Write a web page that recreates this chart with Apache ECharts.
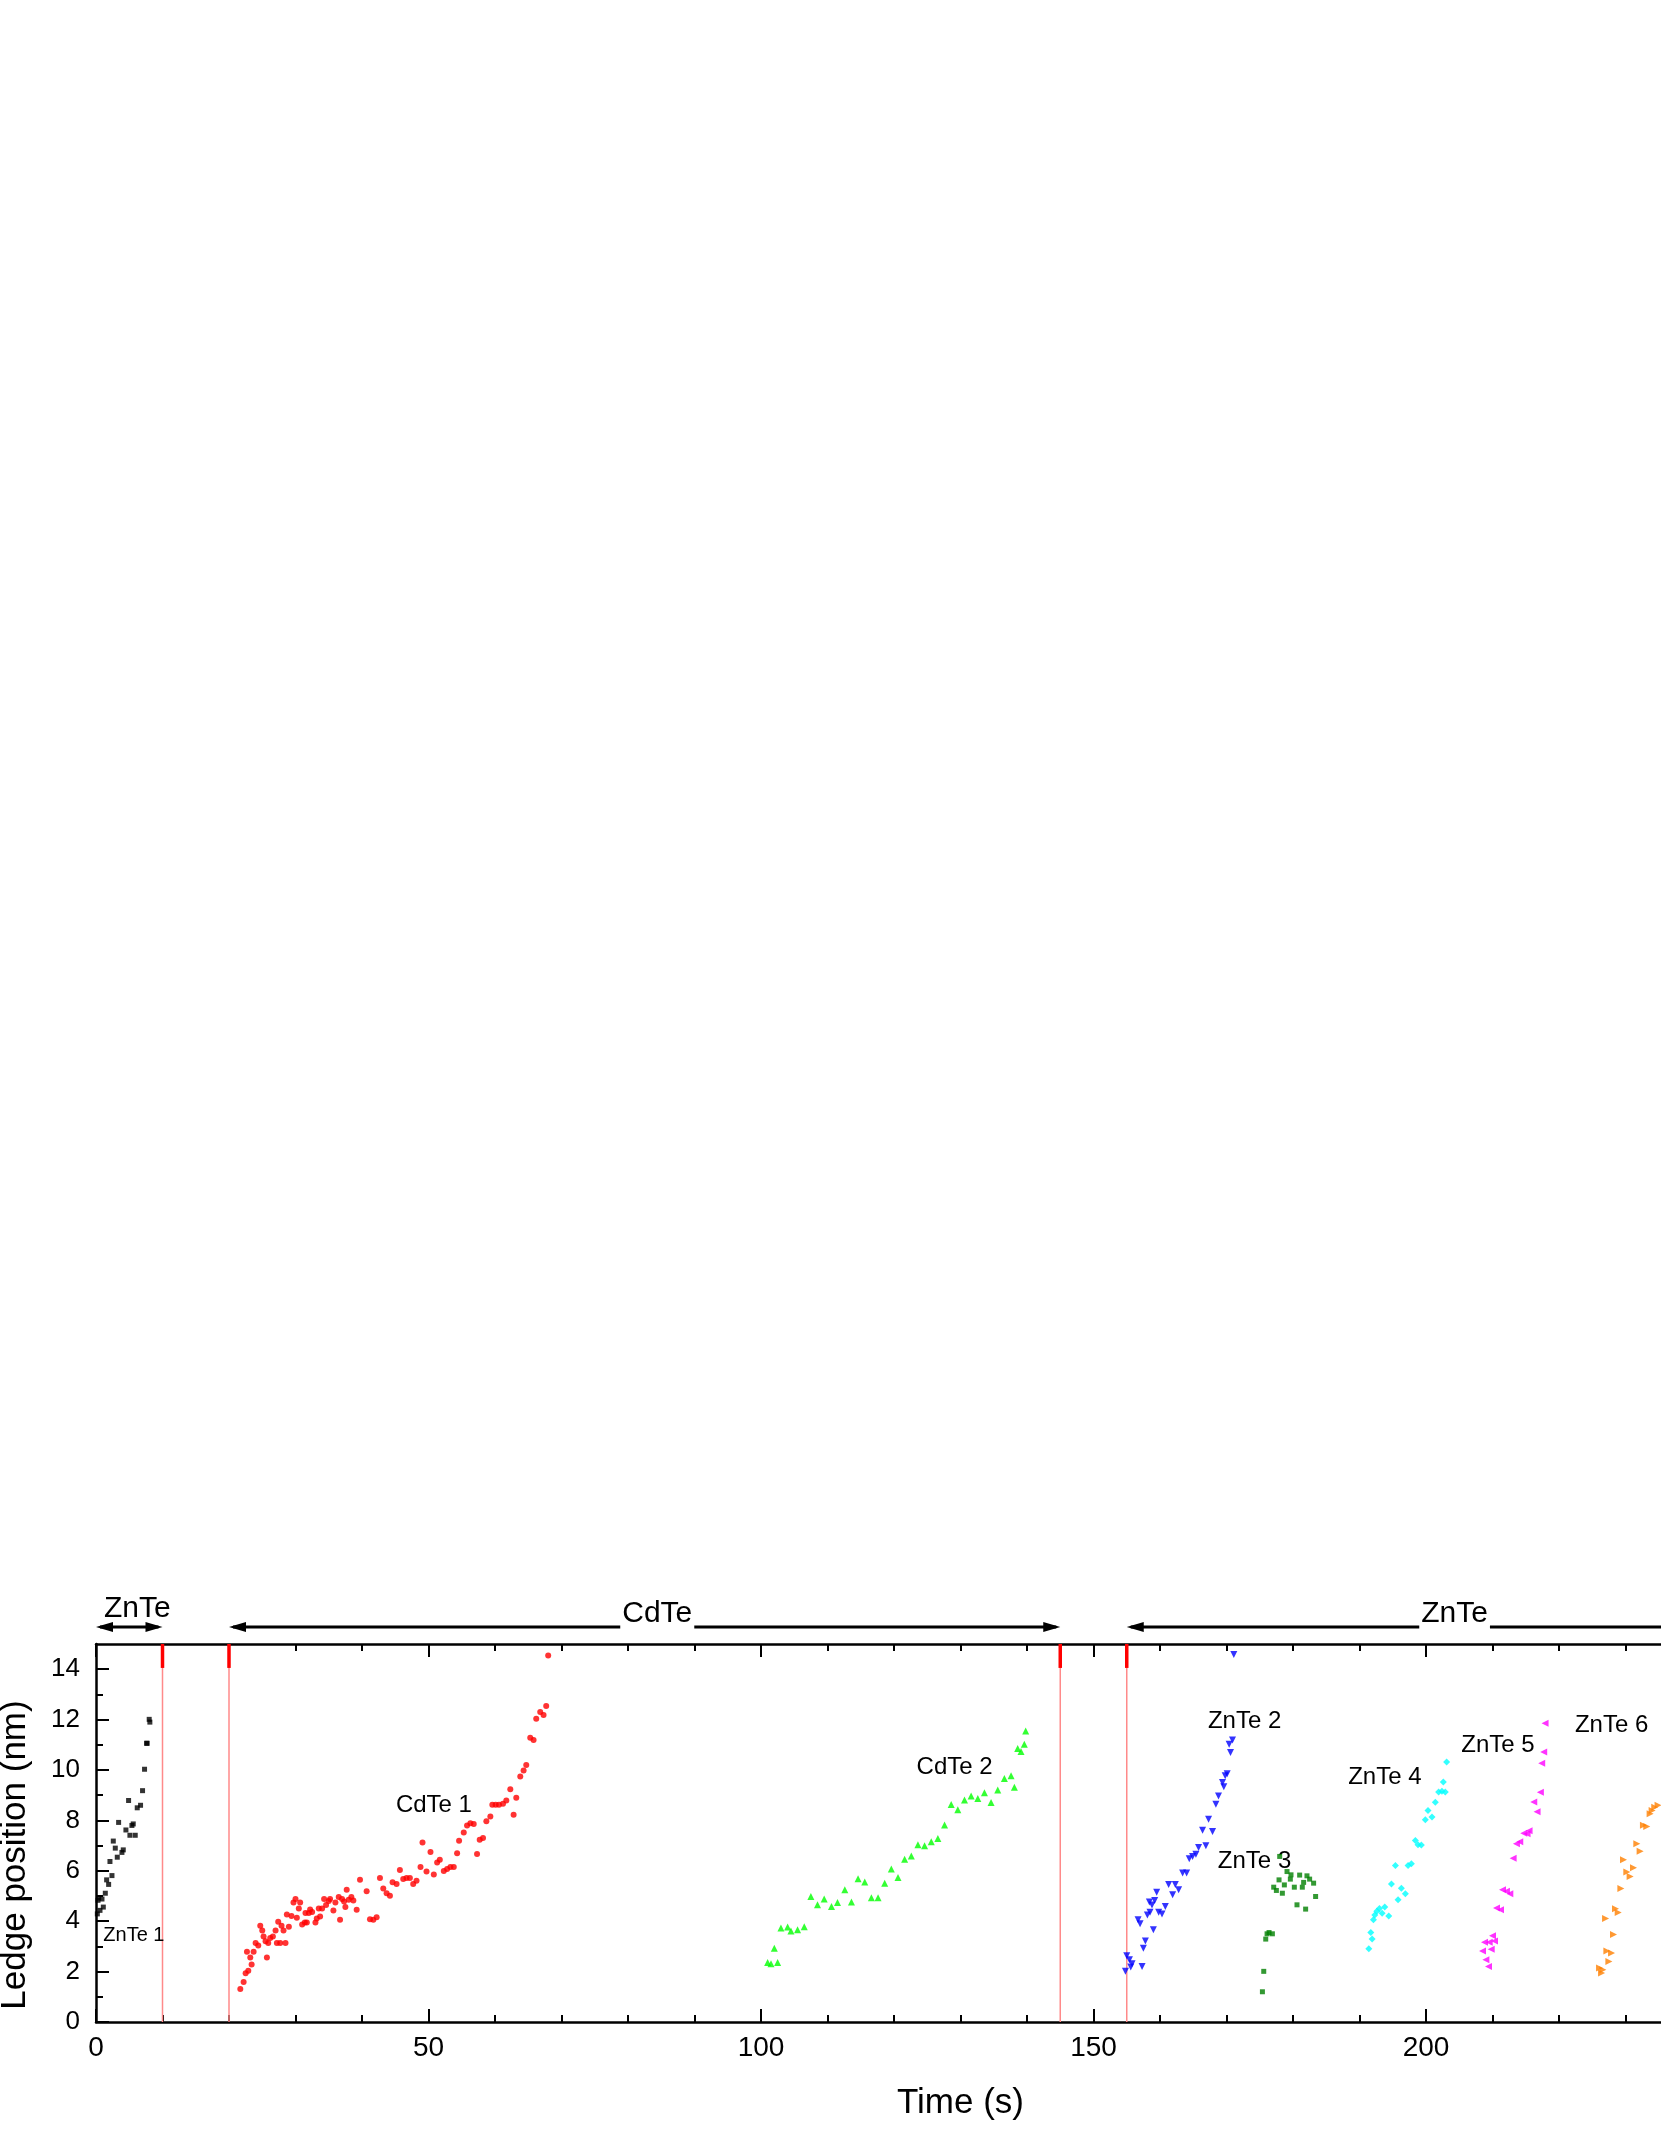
<!DOCTYPE html>
<html>
<head>
<meta charset="utf-8">
<title>Ledge position vs time</title>
<script src="https://cdn.jsdelivr.net/npm/echarts@6/dist/echarts.min.js"></script>
<style>
  html, body { margin: 0; padding: 0; background: #fff; }
  #chart { width: 1661px; height: 2149px; }
</style>
</head>
<body>
<div id="chart"></div>
<script>
// values: time (s) / ledge position (nm)
const znte1Time = [0.2, 0.6, 1.1, 0.3, 0.4, 0.9, 1.4, 1.9, 1.6, 2.4, 2.1, 3.2, 3.9, 4.1, 2.9, 2.6, 5.1, 5.9, 4.5, 5.4, 5.6, 3.4, 6.2, 6.7, 4.9, 7.0, 7.3, 7.6, 7.7, 8.0, 8.1];
const znte1Pos = [4.29, 4.43, 4.56, 4.83, 4.92, 4.88, 5.11, 5.46, 5.64, 5.81, 6.37, 6.54, 6.73, 6.83, 6.9, 7.18, 7.41, 7.41, 7.62, 7.8, 7.86, 7.92, 8.5, 8.6, 8.79, 9.18, 10.03, 11.06, 11.06, 12.01, 11.9];

const cdte1Time = [21.7, 22.2, 22.5, 22.9, 23.4, 23.2, 22.7, 23.7, 24.0, 24.4, 24.7, 25.0, 25.2, 25.5, 25.7, 25.9, 26.2, 26.6, 27.0, 27.2,
  27.4, 27.7, 27.9, 28.2, 28.5, 28.7, 29.0, 29.4, 29.7, 30.0, 30.2, 30.5, 30.7, 31.0, 31.4, 31.7, 31.5, 32.0, 32.2, 32.5,
  33.0, 33.2, 33.5, 33.7, 34.0, 34.3, 34.6, 35.0, 35.2, 35.7, 36.0, 36.5, 36.7, 37.0, 37.3, 37.5, 37.7, 38.0, 38.4, 38.7,
  39.2, 39.7, 40.7, 41.2, 41.7, 42.2, 42.7, 43.2, 43.7, 44.2, 44.6, 45.2, 45.7, 46.2, 46.7, 47.2, 47.7, 48.2, 48.8, 49.1,
  49.7, 50.3, 50.8, 51.3, 51.7, 52.3, 52.8, 53.3, 53.8, 54.3, 54.6, 55.3, 55.8, 56.3, 56.8, 57.3, 57.7, 58.2, 58.7, 59.3,
  59.6, 60.1, 60.6, 61.2, 61.7, 62.3, 62.8, 63.2, 63.8, 64.3, 64.7, 65.3, 65.8, 66.2, 66.8, 67.3, 67.7, 68.0];
const cdte1Pos = [1.31, 1.59, 1.93, 2.03, 2.28, 2.56, 2.79, 2.79, 3.13, 3.04, 3.82, 3.63, 3.39, 3.2, 2.56, 3.13, 3.33, 3.39, 3.63, 3.13,
  3.98, 3.13, 3.82, 3.63, 3.13, 4.27, 3.78, 4.21, 4.74, 4.88, 4.14, 4.5, 4.74, 3.87, 3.95, 3.95, 4.33, 4.33, 4.46, 4.37,
  3.95, 4.11, 4.5, 4.19, 4.5, 4.88, 4.64, 4.8, 4.88, 4.42, 4.74, 4.96, 4.06, 4.88, 4.78, 4.56, 5.25, 4.85, 4.96, 4.82,
  4.45, 5.64, 5.19, 4.08, 4.06, 4.16, 5.71, 5.3, 5.11, 5.01, 5.55, 5.48, 6.03, 5.67, 5.71, 5.71, 5.48, 5.61, 6.15, 7.12,
  5.97, 6.75, 5.85, 6.33, 6.44, 5.99, 6.07, 6.15, 6.15, 6.7, 7.19, 7.52, 7.8, 7.89, 7.86, 6.67, 7.23, 7.3, 7.97, 8.15,
  8.62, 8.62, 8.62, 8.66, 8.79, 9.24, 8.22, 8.9, 9.74, 9.98, 10.2, 11.28, 11.19, 12.03, 12.3, 12.18, 12.54, 14.54];

const cdte2Time = [101.0, 101.5, 102.5, 102.0, 103.0, 104.0, 104.5, 105.5, 106.5, 107.5, 108.5, 109.5, 110.6, 111.5, 112.6,
  113.6, 114.6, 115.6, 116.6, 117.6, 118.6, 119.6, 120.6, 121.6, 122.6, 123.6, 124.6, 125.6, 126.6, 127.6,
  128.6, 129.6, 130.6, 131.6, 132.6, 133.6, 134.6, 135.6, 136.6, 137.6, 138.1, 138.6, 139.1, 139.6, 139.8];
const cdte2Pos = [2.36, 2.31, 2.36, 2.93, 3.73, 3.77, 3.61, 3.66, 3.78, 4.98, 4.65, 4.88, 4.58, 4.74, 5.25,
  4.76, 5.68, 5.56, 4.93, 4.93, 5.51, 6.07, 5.73, 6.46, 6.59, 7.03, 6.99, 7.15, 7.28, 7.82,
  8.63, 8.42, 8.81, 8.97, 8.87, 9.1, 8.71, 9.21, 9.66, 9.77, 9.32, 10.85, 10.73, 11.02, 11.55];

const znte2Time = [171.1, 170.9, 170.4, 170.6, 170.1, 169.8, 169.4, 169.6, 168.8, 168.4, 167.3, 166.4, 167.9, 166.9, 165.8,
  165.4, 164.9, 164.4, 164.0, 163.4, 162.3, 161.3, 162.8, 161.9, 159.5, 159.2, 158.4, 158.8, 160.8, 158.5,
  158.1, 159.8, 160.3, 156.7, 157.0, 159.0, 157.8, 157.5, 155.0, 155.4, 155.8, 155.6, 154.8, 157.3];
const znte2Pos = [14.58, 11.19, 11.02, 10.69, 9.85, 9.77, 9.5, 9.34, 8.97, 8.64, 8.05, 7.61, 7.56, 6.99, 6.92,
  6.66, 6.57, 6.48, 5.91, 5.91, 5.46, 5.46, 5.25, 5.05, 5.15, 4.82, 4.76, 4.64, 4.58, 4.36,
  4.25, 4.36, 4.29, 4.06, 3.9, 3.66, 3.21, 2.93, 2.63, 2.47, 2.31, 2.18, 2.01, 2.2];

const znte3Time = [178.0, 179.1, 179.7, 181.0, 182.1, 182.5, 183.1, 177.9, 179.6, 178.7, 180.2, 181.4, 181.6, 177.1, 177.5,
  178.4, 183.4, 180.6, 181.9, 176.4, 176.9, 176.1, 175.9, 175.6, 175.4];
const znte3Pos = [6.57, 5.97, 5.84, 5.83, 5.8, 5.67, 5.51, 5.64, 5.67, 5.44, 5.35, 5.35, 5.54, 5.35, 5.22,
  5.11, 4.98, 4.65, 4.48, 3.55, 3.5, 3.5, 3.29, 2.01, 1.2];

const znte4Time = [203.1, 202.6, 201.9, 202.4, 202.9, 201.4, 200.3, 200.9, 199.9, 198.4, 198.8, 199.3, 195.4, 197.3, 197.8,
  194.8, 196.3, 196.9, 195.8, 193.8, 193.0, 192.6, 193.4, 192.3, 194.4, 192.1, 191.7, 191.9, 191.4];
const znte4Pos = [10.32, 9.52, 9.13, 9.16, 9.13, 8.72, 8.39, 8.13, 8.03, 7.2, 7.03, 7.02, 6.21, 6.21, 6.28,
  5.48, 5.31, 5.09, 4.85, 4.56, 4.5, 4.39, 4.32, 4.25, 4.21, 4.06, 3.55, 3.29, 2.91];

const znte5Time = [217.9, 217.7, 217.4, 217.2, 216.2, 216.7, 215.5, 214.7, 215.2, 214.1, 213.6, 213.1, 211.5, 212.1, 212.6,
  210.6, 211.2, 210.0, 210.3, 208.8, 209.5, 209.8, 208.5, 209.0, 209.4];
const znte5Pos = [11.86, 10.71, 10.27, 9.12, 8.73, 8.34, 7.59, 7.49, 7.47, 7.15, 7.07, 6.5, 5.25, 5.19, 5.09,
  4.52, 4.45, 3.42, 3.21, 3.16, 3.16, 2.89, 2.82, 2.47, 2.2];

const znte6Time = [234.9, 234.4, 234.0, 233.7, 232.7, 233.2, 231.7, 232.2, 229.7, 231.2, 230.2, 230.7, 229.3, 228.5, 228.9,
  227.0, 228.2, 227.2, 227.9, 227.5, 226.1, 226.6, 226.4];
const znte6Pos = [8.6, 8.52, 8.39, 8.26, 7.81, 7.76, 7.07, 6.78, 6.44, 6.12, 5.95, 5.77, 5.3, 4.49, 4.35,
  4.11, 3.47, 2.82, 2.74, 2.4, 2.14, 2.07, 1.94];

// run labels inside the plot (left end of text, middle height)
const runNames = ['ZnTe 1', 'CdTe 1', 'CdTe 2', 'ZnTe 2', 'ZnTe 3', 'ZnTe 4', 'ZnTe 5', 'ZnTe 6'];
const runLabelTime = [1.1, 45.1, 123.4, 167.2, 168.7, 188.3, 205.3, 222.4];
const runLabelPos = [3.42, 8.58, 10.11, 11.92, 6.37, 9.71, 10.96, 11.79];

// growth switches and the phase arrows above the frame
const switchTimes = [10, 20, 145, 155];
const phaseNames = ['ZnTe', 'CdTe', 'ZnTe'];
const phaseFrom = [0, 20, 155];
const phaseTo = [10, 145, 254];
const phaseTextAt = [6.2, 84.4, 204.3];

const xTicks = [0, 50, 100, 150, 200, 250];
const yTicks = [0, 2, 4, 6, 8, 10, 12, 14];
const yMinorTicks = [1, 3, 5, 7, 9, 11, 13];

const FONT = 'Arial, "Liberation Sans", sans-serif';
const X_MAX = 260;
const Y_MAX = 15;
const ARROW_LEVEL = 15.67;

function pairs(xs, ys) {
  return xs.map(function (x, i) { return [x, ys[i]]; });
}

const runs = [
  { name: 'ZnTe 1', data: pairs(znte1Time, znte1Pos), color: '#000000', symbol: 'rect', size: 5, rotate: 0 },
  { name: 'CdTe 1', data: pairs(cdte1Time, cdte1Pos), color: '#ff0000', symbol: 'circle', size: 6, rotate: 0 },
  { name: 'CdTe 2', data: pairs(cdte2Time, cdte2Pos), color: '#00ff00', symbol: 'triangle', size: 7, rotate: 0 },
  { name: 'ZnTe 2', data: pairs(znte2Time, znte2Pos), color: '#0000ff', symbol: 'triangle', size: 7, rotate: 180 },
  { name: 'ZnTe 3', data: pairs(znte3Time, znte3Pos), color: '#008000', symbol: 'rect', size: 5, rotate: 0 },
  { name: 'ZnTe 4', data: pairs(znte4Time, znte4Pos), color: '#00ffff', symbol: 'diamond', size: 7, rotate: 0 },
  { name: 'ZnTe 5', data: pairs(znte5Time, znte5Pos), color: '#ff00ff', symbol: 'triangle', size: 7, rotate: 90 },
  { name: 'ZnTe 6', data: pairs(znte6Time, znte6Pos), color: '#ff8000', symbol: 'triangle', size: 7, rotate: -90 }
];

const measureCtx = document.createElement('canvas').getContext('2d');
measureCtx.font = '30px ' + FONT;

let chart = echarts.init(document.getElementById('chart'));

let series = runs.map(function (r) {
  return {
    name: r.name,
    type: 'scatter',
    xAxisIndex: 0,
    yAxisIndex: 0,
    data: r.data,
    symbol: r.symbol,
    symbolSize: r.size,
    symbolRotate: r.rotate,
    itemStyle: { color: r.color },
    z: 5,
    silent: true
  };
});

// red switch lines
series.push({
  type: 'custom',
  xAxisIndex: 0,
  yAxisIndex: 0,
  silent: true,
  z: 2,
  data: switchTimes.map(function (t) { return [t, 0]; }),
  encode: { x: 0, y: 1 },
  renderItem: function (params, api) {
    const t = api.value(0);
    const bottom = api.coord([t, 0]);
    const top = api.coord([t, Y_MAX]);
    const mark = api.coord([t, 14.05]);
    return {
      type: 'group',
      children: [
        { type: 'line', shape: { x1: bottom[0], y1: bottom[1], x2: top[0], y2: top[1] },
          style: { stroke: '#ff8a8a', lineWidth: 1.5 } },
        { type: 'line', shape: { x1: top[0], y1: top[1], x2: mark[0], y2: mark[1] },
          style: { stroke: '#ff0000', lineWidth: 3.5 } }
      ]
    };
  }
});

// phase arrows above the frame
series.push({
  type: 'custom',
  xAxisIndex: 0,
  yAxisIndex: 0,
  silent: true,
  clip: false,
  z: 6,
  data: phaseFrom.map(function (f, i) { return [f, phaseTo[i]]; }),
  encode: { x: [0, 1] },
  renderItem: function (params, api) {
    const i = params.dataIndex;
    const a = api.coord([phaseFrom[i], ARROW_LEVEL]);
    const b = api.coord([phaseTo[i], ARROW_LEVEL]);
    const c = api.coord([phaseTextAt[i], ARROW_LEVEL]);
    const y = a[1];
    const head = 17, hw = 5;
    const half = measureCtx.measureText(phaseNames[i]).width / 2 + 2;
    const inline = (b[0] - a[0]) > 4 * half;
    const lineStyle = { stroke: '#000', lineWidth: 3 };
    let children = [];
    if (inline) {
      children.push({ type: 'line', shape: { x1: a[0] + 4, y1: y, x2: c[0] - half, y2: y }, style: lineStyle });
      children.push({ type: 'line', shape: { x1: c[0] + half, y1: y, x2: b[0] - 4, y2: y }, style: lineStyle });
    } else {
      children.push({ type: 'line', shape: { x1: a[0] + 4, y1: y, x2: b[0] - 4, y2: y }, style: lineStyle });
    }
    children.push({ type: 'polygon', shape: { points: [[a[0], y], [a[0] + head, y - hw], [a[0] + head, y + hw]] }, style: { fill: '#000' } });
    children.push({ type: 'polygon', shape: { points: [[b[0], y], [b[0] - head, y - hw], [b[0] - head, y + hw]] }, style: { fill: '#000' } });
    children.push({
      type: 'text',
      x: c[0],
      y: inline ? y + 1.5 : y - 3,
      style: { text: phaseNames[i], fontSize: 30, fontFamily: FONT, fill: '#000', align: 'center', verticalAlign: 'bottom' }
    });
    return { type: 'group', children: children };
  }
});

// run labels
series.push({
  type: 'custom',
  xAxisIndex: 0,
  yAxisIndex: 0,
  silent: true,
  z: 4,
  data: pairs(runLabelTime, runLabelPos),
  encode: { x: 0, y: 1 },
  renderItem: function (params, api) {
    const i = params.dataIndex;
    const p = api.coord([api.value(0), api.value(1)]);
    return {
      type: 'text',
      x: p[0],
      y: p[1],
      style: { text: runNames[i], fontSize: i === 0 ? 20 : 24, fontFamily: FONT, fill: '#000', align: 'left', verticalAlign: 'middle' }
    };
  }
});

const axisLineStyle = { color: '#000', width: 2.5 };

let option = {
  backgroundColor: '#ffffff',
  animation: false,
  grid: { left: 96, top: 1644, width: 1729, height: 378, outerBoundsMode: 'none', containLabel: false },
  xAxis: [
    {
      type: 'value', position: 'bottom', min: 0, max: X_MAX, interval: 50,
      axisLine: { onZero: false, lineStyle: axisLineStyle },
      axisTick: { inside: true, length: 13, lineStyle: { color: '#000', width: 2 } },
      minorTick: { show: true, splitNumber: 5, length: 7, lineStyle: { color: '#000', width: 2 } },
      splitLine: { show: false },
      axisLabel: { fontSize: 28, color: '#000', fontFamily: FONT, margin: 12, customValues: xTicks },
      name: 'Time (s)', nameLocation: 'middle', nameGap: 64,
      nameTextStyle: { fontSize: 35, color: '#000', fontFamily: FONT }
    },
    {
      type: 'value', position: 'top', min: 0, max: X_MAX, interval: 50,
      axisLine: { onZero: false, lineStyle: axisLineStyle },
      axisTick: { inside: true, length: 13, lineStyle: { color: '#000', width: 2 } },
      minorTick: { show: true, splitNumber: 5, length: 7, lineStyle: { color: '#000', width: 2 } },
      splitLine: { show: false },
      axisLabel: { show: false }
    }
  ],
  yAxis: [
    {
      type: 'value', position: 'left', min: 0, max: Y_MAX,
      axisLine: { onZero: false, lineStyle: axisLineStyle },
      axisTick: { inside: true, length: 13, lineStyle: { color: '#000', width: 2 }, customValues: yTicks },
      splitLine: { show: false },
      axisLabel: { fontSize: 26, color: '#000', fontFamily: FONT, margin: 16, customValues: yTicks }
    },
    {
      type: 'value', position: 'left', offset: 0, min: 0, max: Y_MAX,
      axisLine: { show: false, onZero: false },
      axisTick: { show: true, inside: true, length: 7, lineStyle: { color: '#000', width: 2 }, customValues: yMinorTicks },
      splitLine: { show: false },
      axisLabel: { show: false }
    }
  ],
  graphic: [
    {
      type: 'text', x: 15, y: 1855, rotation: Math.PI / 2,
      style: { text: 'Ledge position (nm)', fontSize: 35, fontFamily: FONT, fill: '#000', align: 'center', verticalAlign: 'middle' }
    }
  ],
  series: series
};

chart.setOption(option);
window.addEventListener('resize', function () {
  chart.resize();
});
</script>
</body>
</html>
